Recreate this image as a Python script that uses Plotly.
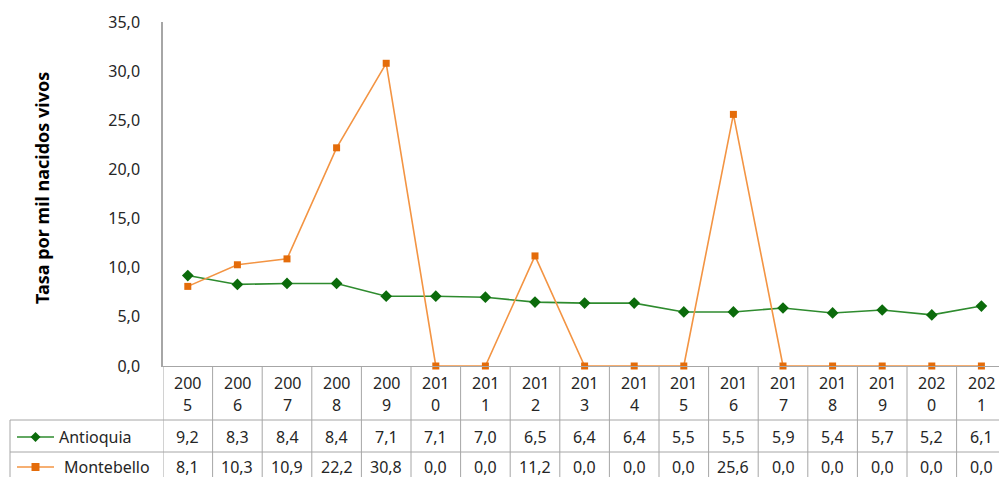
import plotly.graph_objects as go

# Data
years = ["2005", "2006", "2007", "2008", "2009", "2010", "2011", "2012", "2013",
         "2014", "2015", "2016", "2017", "2018", "2019", "2020", "2021"]
antioquia = [9.2, 8.3, 8.4, 8.4, 7.1, 7.1, 7.0, 6.5, 6.4, 6.4, 5.5, 5.5, 5.9, 5.4, 5.7, 5.2, 6.1]
montebello = [8.1, 10.3, 10.9, 22.2, 30.8, 0.0, 0.0, 11.2, 0.0, 0.0, 0.0, 25.6, 0.0, 0.0, 0.0, 0.0, 0.0]
series_names = ["Antioquia", "Montebello"]
y_title = "Tasa por mil nacidos vivos"

# Layout geometry (pixels)
W, H = 999, 477
L, T, B = 163, 22, 111
PLOT_W = W - L
PLOT_H = H - T - B
COL_W = 49.6
x_max = PLOT_W / COL_W - 0.5

FONT = "Noto Sans"
FS = 16
TXT = "#262626"
GRID = "#A6A6A6"
GREEN_LINE = "#2E8B2E"
GREEN_MK = "#0B6B0B"
ORANGE_LINE = "#F39443"
ORANGE_MK = "#E46C0A"


def px(xp):
    return (xp - L) / PLOT_W


def py(yp):
    return (H - B - yp) / PLOT_H


def fmt(v):
    return f"{v:.1f}".replace(".", ",")


idx = list(range(len(years)))

fig = go.Figure()
fig.add_trace(go.Scatter(
    x=idx, y=antioquia, name=series_names[0], mode="lines+markers",
    line=dict(color=GREEN_LINE, width=1.6),
    marker=dict(symbol="diamond", size=9, color=GREEN_MK),
    cliponaxis=False,
))
fig.add_trace(go.Scatter(
    x=idx, y=montebello, name=series_names[1], mode="lines+markers",
    line=dict(color=ORANGE_LINE, width=1.6),
    marker=dict(symbol="square", size=7, color=ORANGE_MK),
    cliponaxis=False,
))

shapes = []
annotations = []

# Data table grid
y_top = H - B
for k in range(len(years) + 1):
    shapes.append(dict(type="line", xref="x", yref="paper",
                       x0=k - 0.5, x1=k - 0.5, y0=py(y_top), y1=py(H + 2),
                       line=dict(color=GRID, width=1)))
for yl in (420, 452):
    shapes.append(dict(type="line", xref="paper", yref="paper",
                       x0=px(10), x1=1, y0=py(yl), y1=py(yl),
                       line=dict(color=GRID, width=1)))
shapes.append(dict(type="line", xref="paper", yref="paper",
                   x0=px(10), x1=px(10), y0=py(420), y1=py(H + 2),
                   line=dict(color=GRID, width=1)))

# Year header (two lines per column)
for i, yr in enumerate(years):
    annotations.append(dict(xref="x", yref="paper", x=i, y=py(383), text=yr[:3],
                            showarrow=False, xanchor="center", yanchor="middle",
                            font=dict(family=FONT, size=FS, color=TXT)))
    annotations.append(dict(xref="x", yref="paper", x=i, y=py(405), text=yr[3:],
                            showarrow=False, xanchor="center", yanchor="middle",
                            font=dict(family=FONT, size=FS, color=TXT)))

# Values rows
rows = [(antioquia, 437), (montebello, 467)]
for vals, yrow in rows:
    for i, v in enumerate(vals):
        annotations.append(dict(xref="x", yref="paper", x=i, y=py(yrow), text=fmt(v),
                                showarrow=False, xanchor="center", yanchor="middle",
                                font=dict(family=FONT, size=FS, color=TXT)))

# Legend keys inside the table
keys = [
    (series_names[0], 437, GREEN_LINE, GREEN_MK, "M -5 0 L 0 5 L 5 0 L 0 -5 Z", 57),
    (series_names[1], 467, ORANGE_LINE, ORANGE_MK, "M -4 -4 L 4 -4 L 4 4 L -4 4 Z", 62),
]
for name, yrow, lc, mc, path, tx in keys:
    shapes.append(dict(type="line", xref="paper", yref="paper",
                       x0=px(17), x1=px(54), y0=py(yrow), y1=py(yrow),
                       line=dict(color=lc, width=1.6)))
    shapes.append(dict(type="path", xref="paper", yref="paper",
                       xsizemode="pixel", ysizemode="pixel",
                       xanchor=px(35.5), yanchor=py(yrow), path=path,
                       fillcolor=mc, line=dict(color=mc, width=0)))
    annotations.append(dict(xref="paper", yref="paper", x=px(tx), y=py(yrow), text=name,
                            showarrow=False, xanchor="left", yanchor="middle",
                            font=dict(family=FONT, size=FS, color=TXT)))

# Y axis title
annotations.append(dict(xref="paper", yref="paper", x=px(42), y=py(188),
                        text=f"<b>{y_title}</b>", textangle=-90, showarrow=False,
                        xanchor="center", yanchor="middle",
                        font=dict(family=FONT, size=18, color="#000000")))

fig.update_layout(
    width=W, height=H,
    margin=dict(l=L, r=0, t=T, b=B, pad=0),
    paper_bgcolor="white", plot_bgcolor="white",
    showlegend=False,
    separators=",.",
    shapes=shapes,
    annotations=annotations,
    xaxis=dict(range=[-0.5, x_max], showgrid=False, zeroline=False,
               showticklabels=False, ticks="",
               showline=True, linecolor=GRID, linewidth=1, fixedrange=True),
    yaxis=dict(range=[0, 35], dtick=5, tickformat=".1f", showgrid=False,
               zeroline=False, showline=True, linecolor=GRID, linewidth=1.5,
               ticks="", ticklabelstandoff=18,
               tickfont=dict(family=FONT, size=FS, color=TXT), fixedrange=True),
)

fig.write_html("out.html")
